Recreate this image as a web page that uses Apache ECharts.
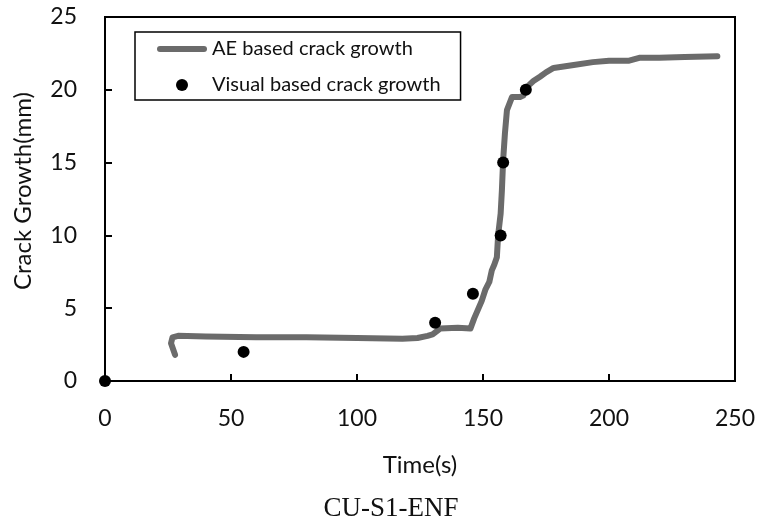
<!DOCTYPE html>
<html>
<head>
<meta charset="utf-8">
<title>Crack growth</title>
<script src="https://cdn.jsdelivr.net/npm/echarts@6/dist/echarts.min.js"></script>
<style>
  html, body { margin: 0; padding: 0; background: #fff; }
  #chart { width: 761px; height: 522px; }
</style>
</head>
<body>
<div id="chart"></div>
<script>
// AE based crack growth curve (time in s, growth in mm)
var aeTime = [27.8, 26.2, 26.8, 29, 40, 60, 80, 100, 118, 124, 128, 130, 133, 140, 145,
  146.5, 148, 149.5, 151, 152.5, 153.5, 154.5, 155.5, 156, 157, 157.5, 158, 158.7, 159.5,
  161.5, 164.7, 166, 167.5, 170, 172.6, 175, 178, 182, 186, 193.6, 200, 208, 212, 220, 230, 243];
var aeGrowth = [1.8, 2.6, 3.0, 3.1, 3.05, 3.0, 3.0, 2.95, 2.9, 2.95, 3.1, 3.2, 3.6, 3.65, 3.6,
  4.3, 4.9, 5.5, 6.3, 6.8, 7.6, 8.0, 8.5, 10.0, 11.5, 13.1, 15.2, 17.0, 18.6,
  19.5, 19.5, 19.6, 20.2, 20.6, 20.9, 21.2, 21.5, 21.6, 21.7, 21.9, 22.0, 22.0, 22.2, 22.2, 22.25, 22.3];

// Visually measured crack growth
var visualTime = [0, 55, 131, 146, 157, 158, 167];
var visualGrowth = [0, 2, 4, 6, 10, 15, 20];

// Axis ticks
var xTicks = [0, 50, 100, 150, 200, 250];
var yTicks = [0, 5, 10, 15, 20, 25];

var aeData = aeTime.map(function (t, i) { return [t, aeGrowth[i]]; });
var visualData = visualTime.map(function (t, i) { return [t, visualGrowth[i]]; });

var sans = 'Lato, "Open Sans", sans-serif';
// thick rounded bar used as the legend swatch of the AE curve
var barIcon = 'path://M3,0 L47,0 A3,3 0 0 1 47,6 L3,6 A3,3 0 0 1 3,0 Z';

var chart = echarts.init(document.getElementById('chart'));
chart.setOption({
  animation: false,
  grid: {
    left: 105, right: 26, top: 17, bottom: 141,
    show: true, borderColor: '#000', borderWidth: 2, backgroundColor: 'transparent'
  },
  legend: {
    orient: 'vertical',
    left: 135, top: 32,
    padding: [6, 20, 4, 22],
    itemGap: 14,
    itemWidth: 50, itemHeight: 12,
    borderColor: '#000', borderWidth: 1.5,
    textStyle: { fontFamily: sans, fontSize: 20, color: '#111', lineHeight: 22 },
    data: [
      { name: 'AE based crack growth', icon: barIcon },
      { name: 'Visual based crack growth', icon: 'circle' }
    ]
  },
  xAxis: {
    type: 'value',
    min: xTicks[0], max: xTicks[xTicks.length - 1], interval: 50,
    name: 'Time(s)', nameLocation: 'middle', nameGap: 72,
    nameTextStyle: { fontFamily: sans, fontSize: 24, color: '#111' },
    axisLine: { lineStyle: { color: '#000', width: 2 } },
    axisTick: { inside: true, length: 7, lineStyle: { color: '#000', width: 2 } },
    axisLabel: { margin: 26, fontFamily: sans, fontSize: 23, color: '#111' },
    splitLine: { show: false }
  },
  yAxis: {
    type: 'value',
    min: yTicks[0], max: yTicks[yTicks.length - 1], interval: 5,
    name: 'Crack Growth(mm)', nameLocation: 'middle', nameGap: 70,
    nameTextStyle: { fontFamily: sans, fontSize: 24, color: '#111', padding: [0, 0, 0, 16] },
    axisLine: { lineStyle: { color: '#000', width: 2 } },
    axisTick: { inside: true, length: 7, lineStyle: { color: '#000', width: 2 } },
    axisLabel: { margin: 28, fontFamily: sans, fontSize: 23, color: '#111' },
    splitLine: { show: false }
  },
  series: [
    {
      name: 'AE based crack growth',
      type: 'line',
      symbol: 'none',
      data: aeData,
      itemStyle: { color: '#6b6b6b' },
      lineStyle: { color: '#6b6b6b', width: 6, cap: 'round', join: 'round' },
      z: 2
    },
    {
      name: 'Visual based crack growth',
      type: 'scatter',
      symbol: 'circle',
      symbolSize: 12,
      data: visualData,
      itemStyle: { color: '#000', opacity: 1 },
      clip: false,
      z: 3
    }
  ],
  graphic: [{
    type: 'text',
    x: 391, y: 509,
    style: {
      text: 'CU-S1-ENF',
      font: '27px "Liberation Serif", "Times New Roman", serif',
      fill: '#111',
      align: 'center',
      verticalAlign: 'middle'
    }
  }]
});
</script>
</body>
</html>
